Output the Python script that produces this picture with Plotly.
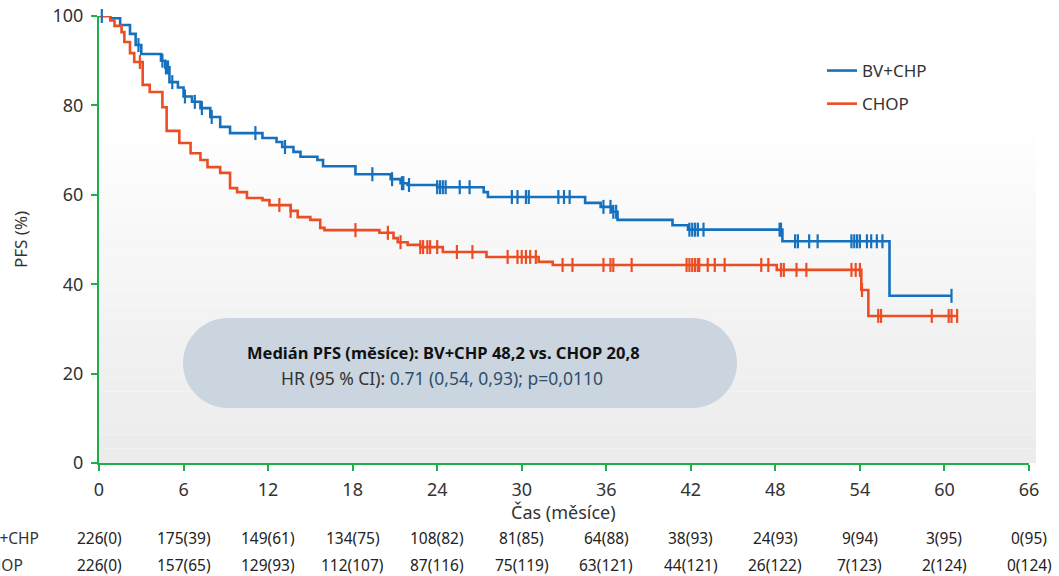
import plotly.graph_objects as go
import numpy as np

# ---------------- data ----------------
bv_times = [0, 0.8, 1.5, 2.2, 2.6, 3.0, 4.4, 4.7, 5.0, 5.6, 6.0, 6.6, 7.2, 7.9, 8.6, 9.3,
            11.6, 12.6, 13.0, 13.8, 14.3, 15.5, 15.9, 18.2, 20.7, 21.4, 21.9, 24.0, 27.3,
            27.6, 34.5, 35.6, 36.4, 36.8, 40.7, 41.8, 48.5, 56.1, 60.5]
bv_surv = [100, 99.5, 98, 96, 93.5, 91.5, 90, 88.5, 85.2, 84, 82, 80.8, 79.4, 77.4, 75.2, 73.8,
           72.7, 71.8, 70.7, 69.6, 68.5, 67.8, 66.4, 64.6, 63.5, 62.6, 62.2, 61.7, 60.6,
           59.5, 58.2, 57.3, 56.2, 54.4, 53.2, 52.2, 49.6, 37.4, 37.4]
bv_censor = [0.2, 2.8, 4.5, 4.75, 4.9, 5.2, 6.1, 6.8, 7.3, 8.0, 11.1, 13.2, 19.4, 20.8, 21.5,
             21.6, 22.0, 24.0, 24.2, 24.4, 24.6, 25.6, 26.3, 29.3, 29.7, 30.3, 30.5, 32.6,
             33.0, 33.4, 35.8, 36.3, 36.5, 36.7, 41.9, 42.1, 42.3, 42.5, 42.9, 48.3, 48.4,
             49.4, 49.6, 50.4, 51.0, 53.4, 53.6, 53.8, 54.0, 54.5, 54.8, 55.2, 55.6, 60.5]

chop_times = [0, 0.8, 1.1, 1.6, 1.8, 2.2, 2.5, 3.1, 3.6, 4.5, 4.8, 5.7, 6.5, 7.2, 7.7, 8.6,
              9.3, 9.8, 10.5, 11.6, 12.1, 13.6, 14.1, 15.0, 15.7, 16.0, 19.9, 20.9, 21.2,
              21.9, 22.8, 24.4, 27.5, 31.2, 32.2, 48.1, 54.1, 54.6, 60.9]
chop_surv = [100, 99, 97.8, 96.4, 94.2, 91.7, 89.7, 84.6, 83, 79.6, 74.3, 71.6, 69.3, 67.8,
             66.2, 64.9, 61.5, 60.6, 59.3, 58.8, 57.7, 56.4, 55, 54.4, 52.6, 52.1, 51.5, 50.3,
             49.4, 48.8, 48.3, 47.2, 46.1, 45.0, 44.3, 43.2, 38.7, 32.9, 32.9]
chop_censor = [2.9, 12.8, 13.6, 18.2, 20.5, 21.4, 22.8, 23.0, 23.3, 23.5, 24.0, 25.4, 26.5,
               29.0, 29.7, 30.0, 30.3, 30.6, 31.0, 32.9, 33.6, 35.8, 36.3, 36.5, 37.8, 41.7,
               41.9, 42.1, 42.3, 42.5, 42.6, 43.2, 43.7, 44.4, 47.0, 47.5, 48.4, 48.6, 49.5,
               50.2, 53.4, 53.7, 54.0, 54.15, 55.3, 55.5, 59.1, 60.3, 60.5, 60.9]

x_ticks = [0, 6, 12, 18, 24, 30, 36, 42, 48, 54, 60, 66]
y_ticks = [0, 20, 40, 60, 80, 100]
risk_bv = ["226(0)", "175(39)", "149(61)", "134(75)", "108(82)", "81(85)", "64(88)",
           "38(93)", "24(93)", "9(94)", "3(95)", "0(95)"]
risk_chop = ["226(0)", "157(65)", "129(93)", "112(107)", "87(116)", "75(119)", "63(121)",
             "44(121)", "26(122)", "7(123)", "2(124)", "0(124)"]

BLUE = "#1570BE"
RED = "#EC4D22"
GREEN = "#1DB04A"
FONT = "Noto Sans"

# ---------------- layout geometry (pixels) ----------------
W, H = 1059, 576
L, R, T, B = 99, 1029, 16, 463


def px2paper(px, py):
    return (px - L) / (R - L), (B - py) / (B - T)


def step_value(times, vals, t):
    idx = np.searchsorted(np.array(times), t, side="right") - 1
    return vals[max(idx, 0)]


fig = go.Figure()

# gradient-like background
n_bands = 24
y_top_px = 120
for i in range(n_bands):
    p0 = B - (B - y_top_px) * i / n_bands
    p1 = B - (B - y_top_px) * (i + 1) / n_bands
    g = int(236 + (255 - 236) * (i / (n_bands - 1)) ** 1.1)
    x0, y0 = px2paper(L, p0)
    x1, y1 = px2paper(1036, p1)
    fig.add_shape(type="rect", xref="paper", yref="paper", x0=x0, x1=x1, y0=y0, y1=y1,
                  fillcolor=f"rgb({g},{g},{g})", line_width=0, layer="below")

# curves
fig.add_trace(go.Scatter(x=bv_times, y=bv_surv, mode="lines", line_shape="hv",
                         line=dict(color=BLUE, width=2.6), name="BV+CHP",
                         legendgroup="a", cliponaxis=False))
fig.add_trace(go.Scatter(x=chop_times, y=chop_surv, mode="lines", line_shape="hv",
                         line=dict(color=RED, width=2.6), name="CHOP",
                         legendgroup="b", cliponaxis=False))

fig.add_trace(go.Scatter(x=bv_censor, y=[step_value(bv_times, bv_surv, t) for t in bv_censor],
                         mode="markers", showlegend=False, cliponaxis=False,
                         marker=dict(symbol="line-ns", size=10, line=dict(color=BLUE, width=2.2))))
fig.add_trace(go.Scatter(x=chop_censor, y=[step_value(chop_times, chop_surv, t) for t in chop_censor],
                         mode="markers", showlegend=False, cliponaxis=False,
                         marker=dict(symbol="line-ns", size=10, line=dict(color=RED, width=2.2))))

# rounded info box (pill)
bx0, bx1, by0, by1 = 183, 737, 318, 408
r = (by1 - by0) / 2
k = 0.5523 * r


def P(px, py):
    x, y = px2paper(px, py)
    return f"{x:.5f},{y:.5f}"


path = (f"M {P(bx0 + r, by0)} L {P(bx1 - r, by0)} "
        f"C {P(bx1 - r + k, by0)} {P(bx1, by0 + r - k)} {P(bx1, by0 + r)} "
        f"C {P(bx1, by0 + r + k)} {P(bx1 - r + k, by1)} {P(bx1 - r, by1)} "
        f"L {P(bx0 + r, by1)} "
        f"C {P(bx0 + r - k, by1)} {P(bx0, by1 - r + k)} {P(bx0, by1 - r)} "
        f"C {P(bx0, by1 - r - k)} {P(bx0 + r - k, by0)} {P(bx0 + r, by0)} Z")
fig.add_shape(type="path", xref="paper", yref="paper", path=path,
              fillcolor="#CBD5DF", line_width=0, layer="below")


def note(px, py, text, size, color, angle=0, xanchor="center"):
    ax, ay = px2paper(px, py)
    fig.add_annotation(xref="paper", yref="paper", x=ax, y=ay, showarrow=False,
                       xanchor=xanchor, yanchor="middle", textangle=angle, text=text,
                       font=dict(family=FONT, size=size, color=color))


note(443, 352, "<b>Medián PFS (měsíce): BV+CHP 48,2 vs. CHOP 20,8</b>", 16.5, "#111111")
note(442, 378, "HR (95 % CI): <span style='color:#2F4F6B'>0.71 (0,54, 0,93); p=0,0110</span>",
     17.5, "#333333")

# axis titles
note(20, 240, "PFS (%)", 17, "#333333", angle=-90)
note(563, 512, "Čas (měsíce)", 18, "#333333")

# risk table (row labels are cut at the left edge, as in the reference)
for row_y, label, vals in [(538, "BV+CHP", risk_bv), (565, "CHOP", risk_chop)]:
    note(-22, row_y, label, 15.5, "#333333", xanchor="left")
    _, yy = px2paper(0, row_y)
    for t, v in zip(x_ticks, vals):
        fig.add_annotation(xref="x", yref="paper", x=t, y=yy, showarrow=False,
                           xanchor="center", yanchor="middle",
                           text=v, font=dict(family=FONT, size=15.5, color="#222222"))

lx, ly = px2paper(822, 53)
fig.update_layout(
    width=W, height=H,
    margin=dict(l=L, r=W - R, t=T, b=H - B, pad=0, autoexpand=False),
    paper_bgcolor="white", plot_bgcolor="rgba(0,0,0,0)",
    font=dict(family=FONT, size=18, color="#333333"),
    legend=dict(x=lx, y=ly, xanchor="left", yanchor="top", bgcolor="rgba(0,0,0,0)",
                traceorder="grouped", tracegroupgap=8,
                font=dict(family=FONT, size=17, color="#333333"), itemwidth=30),
    xaxis=dict(range=[0, 66], tickvals=x_ticks, showgrid=False, zeroline=False,
               showline=True, linecolor=GREEN, linewidth=2, ticks="outside", tickcolor=GREEN,
               tickwidth=2, ticklen=6, tickfont=dict(size=18, color="#333333"),
               ticklabelstandoff=3, automargin=False),
    yaxis=dict(range=[0, 100], tickvals=y_ticks, showgrid=False, zeroline=False,
               showline=True, linecolor=GREEN, linewidth=2, ticks="outside", tickcolor=GREEN,
               tickwidth=2, ticklen=6, tickfont=dict(size=18, color="#333333"),
               ticklabelstandoff=4, automargin=False),
)

fig.write_html("out.html", config={"displayModeBar": False},
               post_script="document.body.style.margin='0';")
